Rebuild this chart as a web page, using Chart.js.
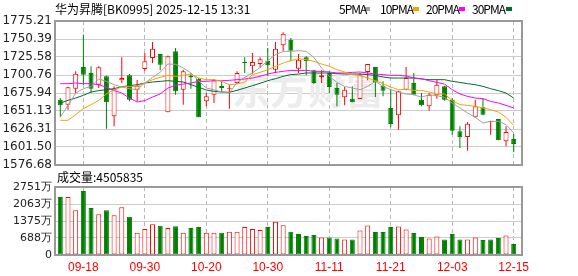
<!DOCTYPE html>
<html>
<head>
<meta charset="utf-8">
<script src="https://cdn.jsdelivr.net/npm/chart.js@4"></script>
<style>
  body { margin: 0; width: 578px; height: 276px; background: #fff; position: relative; overflow: hidden;
         font-family: "Noto Sans CJK SC", sans-serif; font-size: 12px; color: #000; }
  canvas { position: absolute; left: 0; }
  .t { position: absolute; white-space: nowrap; line-height: 14px; z-index: 2; }
  .lg { letter-spacing: -1px; }
  .sw { position: absolute; width: 6px; height: 4px; top: 7px; }
  .box { position: absolute; left: 54px; width: 469px; box-sizing: border-box; border: 2px solid #999; z-index: 1; }
</style>
</head>
<body>
<canvas id="price" width="578" height="180" style="top:0"></canvas>
<canvas id="vol" width="578" height="106" style="top:170px"></canvas>
<div class="box" style="top:20px;height:146px"></div>
<div class="box" style="top:186px;height:70px"></div>
<div class="t" style="left:55px;top:2px">华为昇腾[BK0995] 2025-12-15 13:31</div>
<div class="t" style="left:57px;top:170px">成交量:4505835</div>
<div id="legend"></div>

<script>
// trading days shown (MM-DD)
const dates = ["09-15","09-16","09-17","09-18","09-19","09-22","09-23","09-24","09-25","09-26",
  "09-29","09-30","10-09","10-10","10-13","10-14","10-15","10-16","10-17","10-20",
  "10-21","10-22","10-23","10-24","10-27","10-28","10-29","10-30","10-31","11-03",
  "11-04","11-05","11-06","11-07","11-10","11-11","11-12","11-13","11-14","11-17",
  "11-18","11-19","11-20","11-21","11-24","11-25","11-26","11-27","11-28","12-01",
  "12-02","12-03","12-04","12-05","12-08","12-09","12-10","12-11","12-12","12-15"];
const labelDates = ["09-18","09-30","10-20","10-30","11-11","11-21","12-03","12-15"];

const open = [1666.8,1659.9,1681.9,1711.8,1703.5,1687.4,1698.9,1643.8,1693.4,1700.3,
  1680.5,1709.0,1724.2,1729.7,1649.3,1733.4,1680.5,1699.8,1695.2,1664.4,
  1673.6,1685.6,1681.9,1689.7,1718.7,1712.7,1715.9,1720.5,1708.1,1741.7,
  1749.5,1709.5,1725.1,1707.2,1697.5,1703.5,1682.8,1670.0,1668.1,1667.6,
  1704.9,1711.8,1686.0,1655.3,1645.1,1680.5,1689.7,1666.7,1657.6,1672.7,
  1685.1,1666.7,1623.1,1615.3,1642.4,1656.2,1635.5,1640.1,1609.3,1612.5];
const close = [1658.9,1683.8,1702.6,1701.2,1681.9,1711.3,1663.1,1681.9,1696.6,1666.7,
  1686.0,1719.6,1737.1,1715.0,1726.5,1678.2,1705.8,1697.5,1642.4,1671.3,
  1693.4,1682.8,1682.8,1703.5,1717.3,1718.7,1722.4,1714.1,1737.1,1757.8,
  1734.3,1721.9,1719.6,1689.7,1700.3,1684.2,1673.6,1680.5,1663.1,1701.2,
  1715.9,1690.6,1679.1,1633.2,1678.2,1696.6,1673.6,1658.9,1673.6,1687.4,
  1666.7,1624.0,1614.8,1633.6,1657.6,1646.1,1636.9,1610.7,1622.2,1605.6];
const high = [1669.0,1684.7,1705.8,1756.4,1712.7,1712.7,1699.8,1685.1,1725.1,1702.1,
  1693.9,1731.1,1746.3,1729.7,1727.8,1738.0,1708.1,1703.5,1696.6,1675.9,
  1695.2,1692.0,1687.4,1705.8,1725.1,1731.1,1725.1,1738.0,1746.3,1759.6,
  1751.8,1729.7,1726.5,1708.1,1707.2,1705.8,1689.7,1684.2,1685.1,1703.5,
  1715.9,1711.8,1692.0,1681.9,1679.2,1711.8,1703.5,1675.9,1675.9,1694.3,
  1686.0,1669.0,1630.0,1635.9,1666.7,1669.0,1637.8,1640.1,1630.0,1619.4];
const low = [1642.4,1653.0,1675.9,1687.4,1675.9,1682.8,1626.8,1630.0,1689.7,1664.4,
  1664.4,1706.7,1717.3,1707.2,1649.3,1673.6,1659.9,1681.9,1642.4,1657.6,
  1662.1,1677.3,1654.3,1688.8,1703.5,1702.6,1710.4,1698.9,1703.5,1733.4,
  1719.6,1703.5,1700.3,1688.8,1689.7,1675.9,1657.6,1659.0,1663.1,1667.6,
  1693.4,1670.4,1671.3,1628.6,1625.4,1679.6,1672.7,1657.6,1651.6,1668.1,
  1665.4,1618.5,1600.1,1596.4,1641.5,1645.2,1618.5,1610.7,1602.4,1594.1];

const ma5 = [1642.8,1658.9,1675.9,1681.9,1685.1,1695.2,1692.0,1687.4,1684.2,1681.9,
  1680.5,1689.7,1697.5,1704.4,1715.9,1715.5,1710.4,1703.5,1692.9,1682.8,
  1680.5,1677.3,1675.9,1690.6,1697.5,1703.5,1711.3,1720.5,1728.8,1733.4,
  1733.4,1734.3,1733.4,1725.1,1710.4,1698.9,1690.6,1685.1,1682.8,1680.5,
  1685.1,1692.0,1685.1,1680.5,1677.3,1674.6,1673.6,1670.0,1673.6,1672.3,
  1670.0,1662.1,1655.3,1648.4,1642.4,1634.6,1636.9,1636.9,1632.3,1620.8];
const ma10 = [1638.3,1638.3,1646.1,1654.3,1659.9,1665.8,1674.6,1680.5,1684.2,1685.1,
  1685.1,1689.7,1694.3,1697.5,1700.3,1698.9,1700.3,1702.1,1696.6,1694.3,
  1694.3,1692.0,1687.4,1688.3,1691.1,1701.2,1704.4,1708.1,1712.7,1717.3,
  1720.5,1723.3,1721.9,1719.6,1715.9,1712.7,1708.1,1704.9,1701.2,1699.8,
  1696.6,1692.9,1688.8,1684.2,1680.5,1681.0,1679.6,1679.6,1677.3,1674.6,
  1674.6,1665.4,1659.9,1658.9,1657.6,1655.3,1653.0,1649.7,1642.4,1631.4];
const ma20 = [1688.8,1688.8,1689.7,1688.8,1688.8,1687.4,1683.8,1679.2,1675.9,1669.0,
  1663.5,1665.4,1670.4,1674.6,1682.8,1686.5,1688.3,1689.7,1692.0,1692.0,
  1692.9,1692.9,1693.4,1694.3,1695.2,1696.6,1698.9,1702.1,1704.4,1705.8,
  1707.2,1706.7,1707.2,1705.8,1705.8,1704.9,1703.5,1703.5,1704.4,1704.9,
  1703.5,1702.1,1701.2,1700.3,1700.3,1699.4,1696.6,1695.7,1692.9,1690.6,
  1688.3,1680.5,1674.6,1671.3,1669.0,1668.1,1664.4,1662.1,1658.9,1655.3];
const ma30 = [1662.1,1665.8,1669.0,1672.7,1677.3,1679.2,1680.5,1681.9,1684.7,1686.0,
  1687.4,1689.7,1691.1,1692.0,1692.9,1692.0,1691.1,1687.4,1683.8,1680.1,
  1678.2,1677.3,1676.9,1679.6,1682.8,1686.0,1689.3,1692.9,1695.7,1698.9,
  1701.2,1702.1,1703.5,1703.5,1703.5,1703.5,1702.6,1702.1,1702.1,1702.1,
  1701.2,1700.3,1698.0,1696.6,1696.6,1696.6,1696.6,1695.2,1694.3,1694.3,
  1694.3,1692.0,1690.6,1688.8,1687.4,1685.1,1681.9,1679.2,1675.9,1669.0];

// volume in 万, R = up (hollow red), G = down (filled green)
const volume = [2348,2348,1813,2590,1906,1651,1813,1611,1933,1544,
  899,1047,1249,1182,1088,1168,899,1088,1128,899,
  899,899,940,940,1128,1047,1007,1128,1343,1208,
  940,846,765,806,712,712,671,631,631,993,
  1195,926,926,1128,1155,1034,886,725,671,752,
  631,846,631,631,712,604,631,685,792,443];
const volDir = "GRRGGRGRRGRRRGRGRGGRRGRRRRRGRRGGGGRGGRGRRGGGRRGGRRGGGRRGGGRG".split("");

const priceTicks = [1576.68,1601.50,1626.31,1651.13,1675.94,1700.76,1725.58,1750.39,1775.21];
const volTicks = [0,688,1375,2063,2751];

const maNames = ["5PMA","10PMA","20PMA","30PMA"];
const maColors = ["#a0a0a0","#f5a300","#ff00ff","#006b35"];

const RED = "#ff0000", GREEN = "#008000";
const idx = dates.map((d, i) => i);
const up = idx.map(i => close[i] >= open[i]);

// legend
const legendPos = [339, 380, 426, 472];
const legendSw = [364, 413, 459, 506];
const lg = document.getElementById("legend");
maNames.forEach((n, k) => {
  lg.insertAdjacentHTML("beforeend",
    '<div class="t lg" style="left:' + legendPos[k] + 'px;top:2px">' + n + '</div>' +
    '<div class="sw" style="left:' + legendSw[k] + 'px;background:' + maColors[k] + '"></div>');
});

// faint watermark under the candles
const watermark = {
  id: "watermark",
  beforeDatasetsDraw(chart) {
    const ctx = chart.ctx;
    ctx.save();
    ctx.font = 'bold 38px "Noto Sans CJK SC"';
    ctx.fillStyle = "#ececec";
    ctx.textBaseline = "middle";
    ctx.fillText("东方财富", 232, 90);
    ctx.restore();
  }
};

function xAxis(showLabels) {
  return {
    type: "linear", min: -0.69, max: 60.08, offset: false,
    afterBuildTicks: s => { s.ticks = labelDates.map(d => ({ value: dates.indexOf(d) })); },
    afterFit: s => { s.height = showLabels ? 21 : 0; },
    grid: { color: "#b8b8b8", lineWidth: 1, drawTicks: false, offset: false },
    border: { display: false, dash: [4, 3] },
    ticks: { display: showLabels, padding: 5, color: RED, maxRotation: 0, autoSkip: false,
      font: { family: "Liberation Sans", size: 12 }, callback: v => dates[v] }
  };
}

function yAxis(min, max, ticks, fmt, size) {
  return {
    min: min, max: max,
    afterBuildTicks: s => { s.ticks = ticks.map(v => ({ value: v })); },
    afterFit: s => { s.width = 55; },
    grid: { color: "#cccccc", lineWidth: 1, drawTicks: false },
    border: { display: false },
    ticks: { padding: 3, color: "#222", font: { family: "DejaVu Sans", size: size }, callback: fmt }
  };
}

function maLine(values, color) {
  return { type: "line", data: idx.map(i => ({ x: i, y: values[i] })), borderColor: color,
    borderWidth: 1, pointRadius: 0, tension: 0, order: 1 };
}

new Chart(document.getElementById("price"), {
  type: "bar",
  data: {
    datasets: [
      { data: idx.map(i => ({ x: i, y: [low[i], high[i]] })), backgroundColor: up.map(u => u ? RED : GREEN),
        barThickness: 1, borderWidth: 0, inflateAmount: 0, grouped: false, order: 5 },
      { data: idx.map(i => ({ x: i, y: [Math.min(open[i], close[i]), Math.max(open[i], close[i])] })),
        backgroundColor: up.map(u => u ? "#fff" : GREEN), borderColor: up.map(u => u ? RED : GREEN),
        borderWidth: 1, borderSkipped: false, barThickness: 5, inflateAmount: 0, grouped: false, order: 4 },
      maLine(ma5, maColors[0]),
      maLine(ma10, maColors[1]),
      maLine(ma20, maColors[2]),
      maLine(ma30, maColors[3])
    ]
  },
  options: {
    responsive: false, animation: false, events: [],
    layout: { padding: { left: 0, right: 56, top: 21, bottom: 15 } },
    plugins: { legend: { display: false }, tooltip: { enabled: false } },
    scales: {
      x: xAxis(false),
      y: yAxis(1576.68, 1775.21, priceTicks, v => v.toFixed(2), 12)
    }
  },
  plugins: [watermark]
});

new Chart(document.getElementById("vol"), {
  type: "bar",
  data: {
    datasets: [{
      data: idx.map(i => ({ x: i, y: volume[i] })),
      backgroundColor: volDir.map(d => d === "R" ? "#fff" : GREEN),
      borderColor: volDir.map(d => d === "R" ? RED : GREEN),
      borderWidth: 1, borderSkipped: false, barThickness: 5, inflateAmount: 0
    }]
  },
  options: {
    responsive: false, animation: false, events: [],
    layout: { padding: { left: 0, right: 56, top: 17, bottom: 0 } },
    plugins: { legend: { display: false }, tooltip: { enabled: false } },
    scales: {
      x: xAxis(true),
      y: yAxis(0, 2751, volTicks, v => v ? v + "万" : "0", 11)
    }
  }
});
</script>
</body>
</html>
